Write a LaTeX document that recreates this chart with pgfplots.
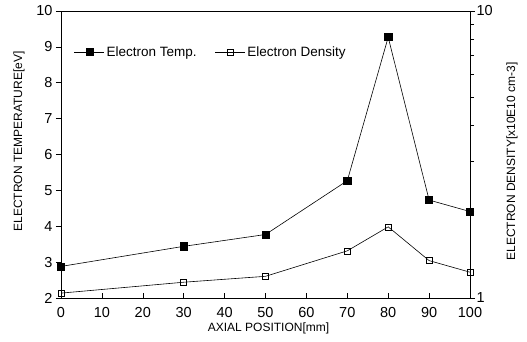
\documentclass[border=0pt]{standalone}
\usepackage{pgfplots}
\pgfplotsset{compat=1.18}
\usetikzlibrary{calc}
\usepackage{fontspec}
\setmainfont{Liberation Sans}

\pgfplotstableread{
x   te
0   2.88
30  3.44
50  3.77
70  5.27
80  9.27
90  4.73
100 4.41
}\temptable

\pgfplotstableread{
x   ne
0   1.04
30  1.135
50  1.19
70  1.46
80  1.77
90  1.35
100 1.23
}\denstable

\begin{document}
\begin{tikzpicture}
\pgfplotsset{
  every axis/.append style={
    scale only axis, width=409bp, height=287bp,
    xmin=0, xmax=100,
    line width=0.6pt,
    tick style={black, line width=0.6pt},
    /pgf/number format/assume math mode=true,
    tick label style={font=\fontsize{14.5bp}{16bp}\selectfont},
    label style={font=\fontsize{12bp}{14bp}\selectfont},
  },
}
\begin{axis}[
  name=a,
  ymin=2, ymax=10,
  xtick pos=bottom,
  ytick pos=left,
  xtick={0,10,...,100},
  ytick={2,3,...,10},
  xtick align=inside,
  ytick align=outside,
  major tick length=5bp,
  xlabel={AXIAL POSITION[mm]},
  ylabel={ELECTRON TEMPERATURE[eV]},
  xlabel style={at={($(rel axis cs:0.5,0)+(3bp,-30bp)$)}, anchor=center},
  ylabel style={at={($(rel axis cs:0,0.5)+(-42bp,13bp)$)}, anchor=center},
  xticklabel style={yshift=-6bp},
]
\addplot[black, line width=0.6pt, mark=square*, mark size=3.6bp] table[x=x, y=te] {\temptable};
\end{axis}
\begin{axis}[
  ymode=log, ymin=1, ymax=10,
  axis y line*=right,
  axis x line=none,
  ytick={1,10}, yticklabels={1,10},
  ytick align=outside,
  major tick length=5bp, minor tick length=4bp,
  ylabel={ELECTRON DENSITY[x10E10 cm-3]},
  ylabel style={at={($(rel axis cs:1,0.5)+(42bp,-7bp)$)}, anchor=center},
  yticklabel style={xshift=-2bp},
  legend style={draw=none, fill=none, at={(rel axis cs:0.024,0.857)}, anchor=west,
    font=\fontsize{13.5bp}{15bp}\selectfont, legend columns=2,
    /tikz/every even column/.append style={column sep=16bp}},
  legend image code/.code={
    \draw[mark repeat=2, mark phase=2] plot coordinates {(0bp,0bp) (15bp,0bp) (30bp,0bp)};
  },
]
\addlegendimage{black, line width=0.6pt, mark=square*, mark size=3.6bp}
\addlegendentry{Electron Temp.}
\addplot[black, line width=0.6pt, mark=square, mark size=3bp, mark options={line width=0.5pt}] table[x=x, y=ne] {\denstable};
\addlegendentry{Electron Density}
\end{axis}
\pgfresetboundingbox
\useasboundingbox ([shift={(-61bp,-44bp)}]a.south west) rectangle ([shift={(57bp,11bp)}]a.north east);
\end{tikzpicture}
\end{document}
